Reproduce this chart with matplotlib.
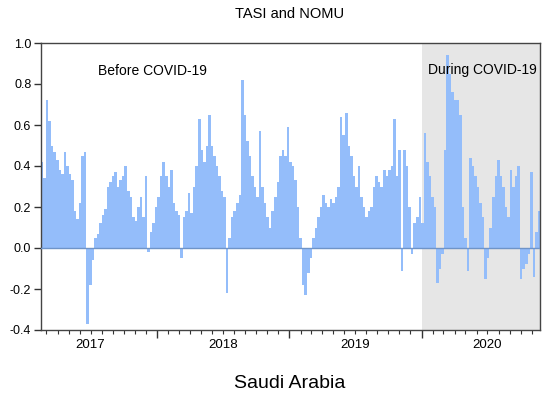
import matplotlib
matplotlib.use("Agg")
import matplotlib.pyplot as plt
import matplotlib.dates as mdates
import matplotlib.transforms as mtransforms
import pandas as pd

plt.rcParams['font.family'] = ['Liberation Sans', 'DejaVu Sans']

# weekly readings of the TASI / NOMU correlation, Feb 2017 - Nov 2020
values = [
    0.42, 0.34, 0.72, 0.62, 0.50, 0.47, 0.43, 0.38, 0.36, 0.47,
    0.40, 0.36, 0.33, 0.18, 0.14, 0.22, 0.45, 0.47, -0.37, -0.18,
    -0.06, 0.05, 0.07, 0.12, 0.16, 0.19, 0.30, 0.32, 0.35, 0.37,
    0.30, 0.33, 0.35, 0.40, 0.28, 0.25, 0.15, 0.13, 0.20, 0.25,
    0.15, 0.35, -0.02, 0.08, 0.12, 0.20, 0.25, 0.35, 0.42, 0.35,
    0.30, 0.38, 0.22, 0.18, 0.16, -0.05, 0.15, 0.18, 0.27, 0.17,
    0.30, 0.40, 0.63, 0.48, 0.42, 0.50, 0.65, 0.50, 0.45, 0.40,
    0.35, 0.28, 0.25, -0.22, 0.05, 0.15, 0.18, 0.22, 0.26, 0.82,
    0.65, 0.52, 0.45, 0.35, 0.30, 0.25, 0.57, 0.30, 0.22, 0.15,
    0.10, 0.18, 0.25, 0.32, 0.45, 0.48, 0.45, 0.59, 0.42, 0.40,
    0.33, 0.20, 0.05, -0.18, -0.23, -0.12, -0.05, 0.05, 0.10, 0.15,
    0.20, 0.26, 0.22, 0.20, 0.24, 0.22, 0.25, 0.30, 0.64, 0.55,
    0.66, 0.50, 0.45, 0.35, 0.30, 0.40, 0.25, 0.20, 0.15, 0.18,
    0.20, 0.30, 0.35, 0.32, 0.30, 0.38, 0.35, 0.38, 0.40, 0.63,
    0.35, 0.48, -0.11, 0.48, 0.40, 0.20, -0.03, 0.12, 0.15, 0.25,
    0.12, 0.56, 0.42, 0.35, 0.25, 0.20, -0.17, -0.10, -0.03, 0.48,
    0.94, 0.85, 0.76, 0.72, 0.72, 0.65, 0.20, 0.05, -0.11, 0.44,
    0.40, 0.35, 0.30, 0.22, 0.15, -0.15, -0.05, 0.10, 0.25, 0.35,
    0.43, 0.35, 0.30, 0.20, 0.15, 0.38, 0.30, 0.35, 0.40, -0.15,
    -0.10, -0.08, -0.03, 0.37, -0.14, 0.08, 0.18,
]
dates = pd.date_range('2017-02-17', periods=len(values), freq='7D')

years = [2017, 2018, 2019, 2020]
covid_start = pd.Timestamp('2020-01-01')
x_start = pd.Timestamp('2017-02-14')
x_end = pd.Timestamp('2020-11-23')

bar_color = '#94bdfa'

fig = plt.figure(figsize=(5.5, 3.97), dpi=100)
ax = fig.add_axes([41 / 550, 1 - 330 / 397, 499 / 550, 287 / 397])

ax.axvspan(covid_start, x_end, color='#e6e6e6', zorder=0, lw=0)
ax.bar(dates, values, width=7, color=bar_color, linewidth=0, zorder=2)
ax.axhline(0, color='#6f94c8', lw=1, zorder=3)

ax.set_xlim(x_start, x_end)
ax.set_ylim(-0.4, 1.0)
ax.set_yticks([-0.4, -0.2, 0.0, 0.2, 0.4, 0.6, 0.8, 1.0])
ax.set_yticklabels(['-0.4', '-0.2', '0.0', '0.2', '0.4', '0.6', '0.8', '1.0'])

ax.xaxis.set_major_locator(mdates.YearLocator())
ax.xaxis.set_minor_locator(mdates.MonthLocator())
ax.xaxis.set_major_formatter(plt.NullFormatter())
ax.tick_params(axis='x', which='major', length=6, width=1, color='#333333')
ax.tick_params(axis='x', which='minor', length=3, width=0.8, color='#333333')
ax.tick_params(axis='y', length=5, width=1, color='#333333', labelsize=9, pad=2)

for s in ax.spines.values():
    s.set_color('#444444')
    s.set_linewidth(1)

# year labels centred under each year
trans = mtransforms.blended_transform_factory(ax.transData, ax.transAxes)
for y in years:
    ax.text(pd.Timestamp(f'{y}-07-01'), -0.052, str(y), transform=trans,
            ha='center', va='center', fontsize=9.5)

fig.text(290 / 550, 1 - 14 / 397, 'TASI and NOMU', ha='center', va='center', fontsize=10.5)
fig.text(152 / 550, 1 - 71 / 397, 'Before COVID-19', ha='center', va='center', fontsize=10)
fig.text(482 / 550, 1 - 70 / 397, 'During COVID-19', ha='center', va='center', fontsize=10)
fig.text(290 / 550, 1 - 383 / 397, 'Saudi Arabia', ha='center', va='center', fontsize=14)

fig.savefig('out.png', dpi=100)
